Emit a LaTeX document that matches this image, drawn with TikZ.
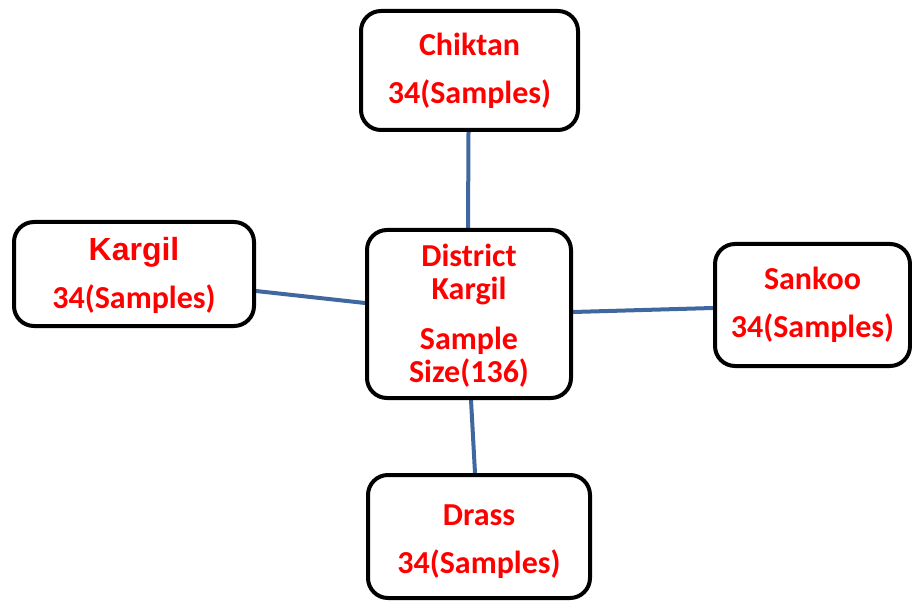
\documentclass[tikz,border=0pt]{standalone}
\usepackage{fontspec}
\setmainfont{Carlito}
\newfontfamily\arialfont{Liberation Sans}
\usetikzlibrary{backgrounds}
\definecolor{linkblue}{RGB}{64,104,160}
\definecolor{txtred}{RGB}{255,0,0}
\tikzset{
  box/.style={draw=black, line width=4pt, rounded corners=20pt, fill=white,
    align=center, text=txtred, inner sep=0pt,
    font={\fontsize{32}{48}\selectfont\bfseries}},
  link/.style={draw=linkblue, line width=4pt}
}
\begin{document}
\begin{tikzpicture}[x=1pt,y=-1pt]
\useasboundingbox (0,0) rectangle (912,601);
\node[box, minimum width=217pt, minimum height=119pt] (chiktan) at (469.5,70.5) {Chiktan\\34(Samples)};
\node[box, minimum width=240pt, minimum height=104pt] (kargil) at (134,274) {\rule{0pt}{27pt}{\arialfont\bfseries Kargil}\\34(Samples)};
\node[box, minimum width=204pt, minimum height=168pt,
  font={\fontsize{32}{33}\selectfont\bfseries}] (center) at (469,314)
  {\rule{0pt}{25pt}District\\Kargil\\[17pt]Sample\\Size(136)};
\node[box, minimum width=195pt, minimum height=122pt] (sankoo) at (812.5,305) {Sankoo\\34(Samples)};
\node[box, minimum width=222pt, minimum height=123pt] (drass) at (479,536.5) {\rule{0pt}{31pt}Drass\\34(Samples)};
\begin{scope}[on background layer]
\draw[link] ([xshift=-1pt]chiktan.south) -- ([xshift=-1pt]center.north);
\draw[link] ([yshift=-17pt]kargil.east) -- ([yshift=11pt]center.west);
\draw[link] ([yshift=2pt]center.east) -- ([yshift=-3pt]sankoo.west);
\draw[link] ([xshift=2pt]center.south) -- ([xshift=-4pt]drass.north);
\end{scope}
\end{tikzpicture}
\end{document}
